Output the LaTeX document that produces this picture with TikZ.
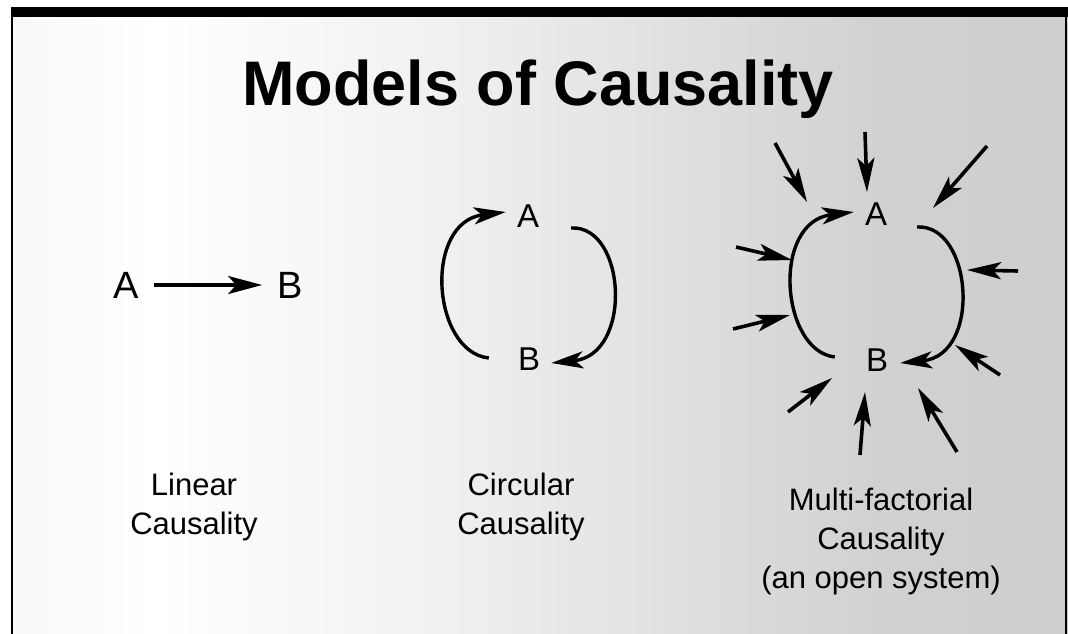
\documentclass[tikz,border=0pt]{standalone}
\usepackage{fontspec}
\setmainfont{Liberation Sans}
\usetikzlibrary{arrows.meta, positioning, calc}

\pgfdeclarehorizontalshading{slidebg}{100bp}{color(0bp)=(gray!24); color(18bp)=(gray!10); color(32bp)=(white); color(46bp)=(gray!12); color(66bp)=(gray!36); color(100bp)=(gray!46)}

\begin{document}
\begin{tikzpicture}[x=1pt, y=-1pt,
  letter/.style={inner sep=2pt, font=\fontsize{33}{38}\selectfont},
  bigletter/.style={inner sep=2pt, font=\fontsize{38}{42}\selectfont},
  caption/.style={align=center, font=\fontsize{31}{39}\selectfont},
  headline/.style={font=\fontsize{63}{70}\selectfont\bfseries},
  flow/.style={-{Stealth[length=34pt, width=18pt, inset=8pt]}, line width=3.4pt},
  feedback/.style={-{Stealth[length=32pt, width=17pt, inset=8pt]}, line width=3.4pt},
  inflow/.style={-{Stealth[length=34pt, width=17pt, inset=8pt]}, line width=3.6pt}
]
\useasboundingbox (0,0) rectangle (1068,634);

% slide frame
\shade[shading=slidebg] (11,17) rectangle (1068,634);
\fill (11,7) rectangle (1068,17);
\draw[line width=1.6pt] (12,17) -- (12,634);
\draw[line width=1.6pt] (1066,17) -- (1066,634);

\node[headline, anchor=base] (title) at (538,105) {Models of Causality};

% linear
\node[bigletter] (la) at (126,285) {A};
\node[bigletter] (lb) at (290,285) {B};
\draw[flow, shorten <=13pt, shorten >=13pt] (la) -- (lb);
\node[caption] (lcap) at (194,507) {Linear\\Causality};

% circular
\node[letter] (ca) at (528,216) {A};
\node[letter] (cb) at (529,359) {B};
\draw[feedback] ([shift={(-27,-1)}]cb.west) .. controls +(-57,-6) and +(-83,10) .. ([shift={(-9,-4)}]ca.west);
\draw[feedback] ([shift={(30,12)}]ca.east) .. controls +(55,-3) and +(82,-8) .. ([shift={(9,4)}]cb.east);
\node[caption] (ccap) at (521,507) {Circular\\Causality};

% multi-factorial
\node[letter] (ma) at (876,214) {A};
\node[letter] (mb) at (877,360) {B};
\draw[feedback] ([shift={(-29,-3)}]mb.west) .. controls +(-54,-6) and +(-83,10) .. ([shift={(-9,-2)}]ma.west);
\draw[feedback] ([shift={(28,13)}]ma.east) .. controls +(55,-3) and +(82,-8) .. ([shift={(10,3)}]mb.east);

\foreach \sx/\sy/\tx/\ty [count=\k] in {775/143/807/202, 865/132/867/192, 987/146/933/208,
    736/247/792/260, 1018/271/967/270, 733/329/790/315, 1000/375/955/345,
    788/412/832/378, 860/455/865/392, 957/452/918/388} {
  \coordinate (src\k) at (\sx,\sy);
  \coordinate (dst\k) at (\tx,\ty);
  \draw[inflow] (src\k) -- (dst\k);
}
\node[caption] (mcap) at (881,541) {Multi-factorial\\Causality\\(an open system)};

\end{tikzpicture}
\end{document}
